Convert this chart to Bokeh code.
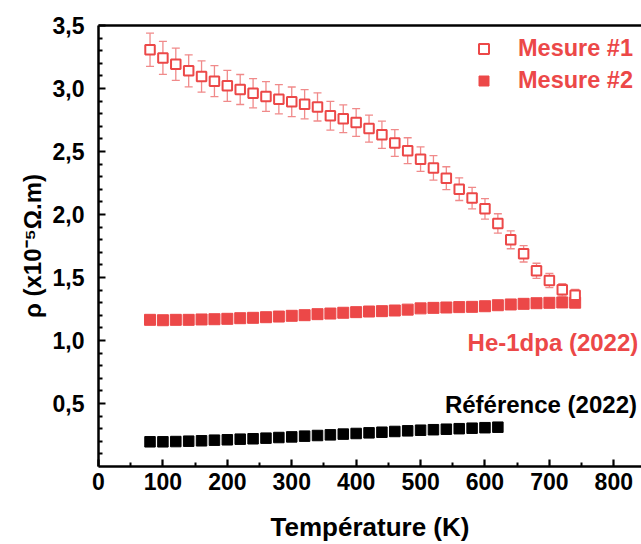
from bokeh.plotting import figure
from bokeh.models import (ColumnDataSource, Range1d, FixedTicker, CustomJSTickFormatter,
                          LinearAxis, Whisker, TeeHead, Legend, LegendItem, Label)
from bokeh.embed import file_html
from bokeh.resources import INLINE

# ---------------- data ----------------
temp_m1 = [80, 100, 120, 140, 160, 180, 200, 220, 240, 260, 280, 300, 320, 340, 360, 380, 400,
           420, 440, 460, 480, 500, 520, 540, 560, 580, 600, 620, 640, 660, 680, 700, 720, 740]
rho_m1 = [3.307, 3.243, 3.193, 3.140, 3.095, 3.058, 3.021, 2.992, 2.963, 2.937, 2.915, 2.894,
          2.875, 2.854, 2.784, 2.760, 2.730, 2.682, 2.633, 2.568, 2.506, 2.439, 2.370, 2.288,
          2.201, 2.130, 2.045, 1.929, 1.799, 1.688, 1.553, 1.476, 1.402, 1.360]
err_m1 = [0.132, 0.131, 0.128, 0.127, 0.124, 0.123, 0.123, 0.119, 0.116, 0.118, 0.116, 0.118,
          0.116, 0.112, 0.114, 0.110, 0.110, 0.107, 0.108, 0.106, 0.103, 0.097, 0.097, 0.091,
          0.090, 0.085, 0.081, 0.077, 0.071, 0.065, 0.060, 0.056, 0.050, 0.045]

temp_m2 = temp_m1
rho_m2 = [1.164, 1.161, 1.164, 1.164, 1.167, 1.169, 1.172, 1.177, 1.180, 1.185, 1.190, 1.196,
          1.201, 1.209, 1.214, 1.220, 1.225, 1.230, 1.233, 1.238, 1.245, 1.255, 1.259, 1.262,
          1.265, 1.267, 1.272, 1.280, 1.286, 1.291, 1.296, 1.299, 1.302, 1.300]
err_m2 = [0.015, 0.015, 0.015, 0.015, 0.015, 0.015, 0.015, 0.016, 0.016, 0.016, 0.016, 0.017,
          0.017, 0.017, 0.018, 0.018, 0.018, 0.019, 0.019, 0.019, 0.020, 0.020, 0.021, 0.021,
          0.022, 0.022, 0.023, 0.024, 0.025, 0.026, 0.027, 0.028, 0.030, 0.035]

temp_ref = [80, 100, 120, 140, 160, 180, 200, 220, 240, 260, 280, 300, 320, 340, 360, 380, 400,
            420, 440, 460, 480, 500, 520, 540, 560, 580, 600, 620]
rho_ref = [0.196, 0.196, 0.198, 0.201, 0.204, 0.209, 0.212, 0.217, 0.220, 0.225, 0.230, 0.235,
           0.241, 0.246, 0.251, 0.257, 0.262, 0.267, 0.272, 0.278, 0.283, 0.288, 0.292, 0.296,
           0.300, 0.304, 0.308, 0.312]

x_ticks = [0, 100, 200, 300, 400, 500, 600, 700, 800]
x_minor = [50, 150, 250, 350, 450, 550, 650, 750]
y_ticks = [0.5, 1.0, 1.5, 2.0, 2.5, 3.0, 3.5]
y_minor = [0.1, 0.2, 0.3, 0.4, 0.6, 0.7, 0.8, 0.9, 1.1, 1.2, 1.3, 1.4, 1.6, 1.7, 1.8, 1.9,
           2.1, 2.2, 2.3, 2.4, 2.6, 2.7, 2.8, 2.9, 3.1, 3.2, 3.3, 3.4]

labels_series = ["Mesure #1", "Mesure #2"]
annot_he = "He-1dpa (2022)"
annot_ref = "Référence (2022)"
x_title = "Température (K)"
y_title = "ρ (x10⁻⁵Ω.m)"

# ---------------- style ----------------
RED = "#EC4848"
RED_ERR = "#F08A8A"
FONT = "Liberation Sans"

p = figure(width=641, height=544, output_backend="svg", toolbar_location=None,
           x_range=Range1d(0, 843), y_range=Range1d(0, 3.5),
           min_border_left=98, min_border_right=0, min_border_top=25, min_border_bottom=78)
p.outline_line_color = None
p.xgrid.visible = False
p.ygrid.visible = False
p.background_fill_color = "white"
p.border_fill_color = "white"

for ax in (p.xaxis[0], p.yaxis[0]):
    ax.axis_line_width = 2.5
    ax.axis_line_color = "black"
    ax.major_tick_in = 7
    ax.major_tick_out = 0
    ax.minor_tick_in = 4
    ax.minor_tick_out = 0
    ax.major_tick_line_width = 2.2
    ax.minor_tick_line_width = 2
    ax.major_label_text_font = FONT
    ax.major_label_text_font_style = "bold"
    ax.major_label_text_font_size = "23px"
    ax.major_label_text_color = "black"
    ax.axis_label_text_font = FONT
    ax.axis_label_text_font_style = "bold"
    ax.axis_label_text_color = "black"

p.xaxis[0].ticker = FixedTicker(ticks=x_ticks, minor_ticks=x_minor)
p.yaxis[0].ticker = FixedTicker(ticks=y_ticks, minor_ticks=y_minor)
p.yaxis[0].formatter = CustomJSTickFormatter(code="return tick.toFixed(1).replace('.', ',');")
p.xaxis[0].major_label_standoff = 6
p.yaxis[0].major_label_standoff = 14

p.xaxis[0].axis_label = x_title
p.xaxis[0].axis_label_text_font_size = "26px"
p.xaxis[0].axis_label_standoff = 19
p.yaxis[0].axis_label = y_title
p.yaxis[0].axis_label_text_font_size = "24px"
p.yaxis[0].axis_label_standoff = 4

# top border line
top = LinearAxis(ticker=FixedTicker(ticks=[]), major_tick_in=0, major_tick_out=0,
                 minor_tick_in=0, minor_tick_out=0, major_label_text_font_size="0px",
                 axis_line_width=2.5, axis_line_color="black")
p.add_layout(top, "above")

# error bars
src1 = ColumnDataSource(dict(x=temp_m1, y=rho_m1,
                             lo=[v - e for v, e in zip(rho_m1, err_m1)],
                             hi=[v + e for v, e in zip(rho_m1, err_m1)]))
src2 = ColumnDataSource(dict(x=temp_m2, y=rho_m2,
                             lo=[v - e for v, e in zip(rho_m2, err_m2)],
                             hi=[v + e for v, e in zip(rho_m2, err_m2)]))
srcr = ColumnDataSource(dict(x=temp_ref, y=rho_ref))

for src in (src1, src2):
    w = Whisker(source=src, base="x", lower="lo", upper="hi", dimension="height",
                line_color=RED_ERR, line_width=1.3,
                lower_head=TeeHead(size=8, line_color=RED_ERR, line_width=1.3),
                upper_head=TeeHead(size=8, line_color=RED_ERR, line_width=1.3))
    p.add_layout(w)

r2 = p.scatter("x", "y", source=src2, marker="square", size=11, fill_color=RED,
               line_color=RED, line_width=1)
r1 = p.scatter("x", "y", source=src1, marker="square", size=9.5, fill_color="white",
               line_color=RED, line_width=2)
rr = p.scatter("x", "y", source=srcr, marker="square", size=10.5, fill_color="black",
               line_color="black")

legend = Legend(items=[LegendItem(label=labels_series[0], renderers=[r1]),
                       LegendItem(label=labels_series[1], renderers=[r2])],
                location=(373, 372), orientation="vertical",
                glyph_width=25, glyph_height=25, label_height=25, spacing=5,
                label_standoff=22, padding=0, margin=0,
                background_fill_alpha=0, border_line_color=None,
                label_text_font=FONT, label_text_font_style="bold",
                label_text_font_size="23.5px", label_text_color=RED)
p.add_layout(legend)

p.add_layout(Label(x=838, y=0.985, text=annot_he, text_align="right", text_baseline="middle",
                   text_font=FONT, text_font_style="bold", text_font_size="24px",
                   text_color=RED))
p.add_layout(Label(x=836, y=0.49, text=annot_ref, text_align="right", text_baseline="middle",
                   text_font=FONT, text_font_style="bold", text_font_size="24px",
                   text_color="black"))

open("out.html", "w").write(file_html(p, INLINE))
